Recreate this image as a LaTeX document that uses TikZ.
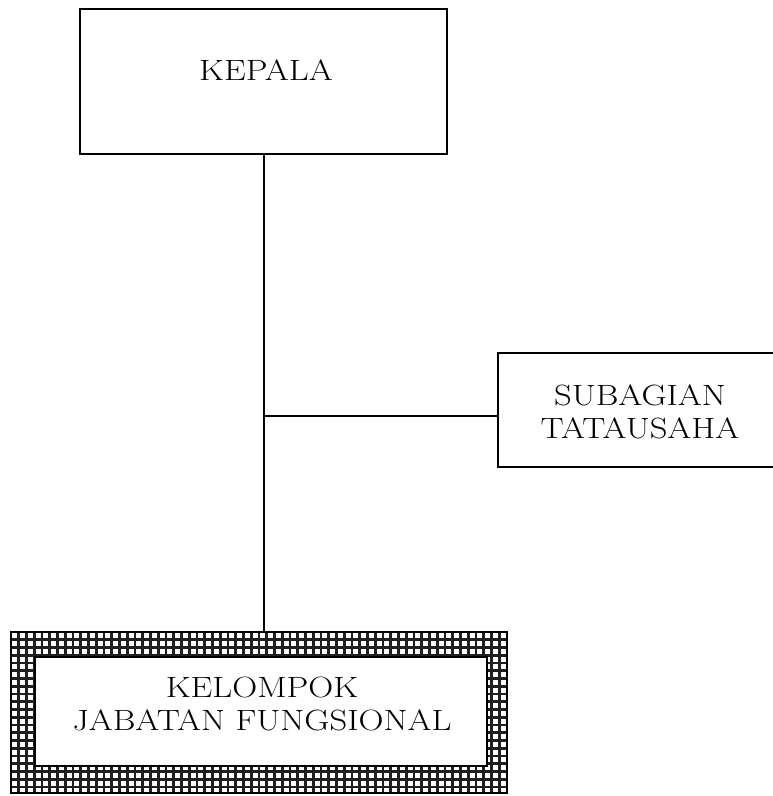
\documentclass[tikz,border=0pt]{standalone}
\newcommand{\wide}[1]{\scalebox{1.18}[1]{#1}}
\begin{document}
\begin{tikzpicture}[x=0.75pt,y=-0.75pt,
  box/.style={draw=black,line width=1.5pt,inner sep=0pt},
  lbl/.style={align=center,font=\fontsize{22}{24.75}\selectfont},
  conn/.style={line width=1.5pt},
  gridline/.style={line width=1.9pt,black!88}]
\useasboundingbox (0,0) rectangle (773,796);
\clip (0,0) rectangle (773,796);
% KEPALA
\node[box,minimum width=367*0.75pt,minimum height=145*0.75pt] (kep) at (263.5,81.5) {};
\node[lbl] (kept) at (266,70.5) {\wide{KEPALA}};
% SUBAGIAN
\node[box,minimum width=310*0.75pt,minimum height=114*0.75pt,anchor=west] (sub) at (497,410) {};
\node[lbl] (subt) at (640,411.5) {\wide{SUBAGIAN}\\\wide{TATAUSAHA}};
% KELOMPOK hatched outer
\node[inner sep=0pt,minimum width=496*0.75pt,minimum height=161*0.75pt] (kel) at (259,712.5) {};
\begin{scope}
\clip (kel.north west) rectangle (kel.south east);
\foreach \i in {0,...,65} {
  \draw[gridline] (11+\i*7.75,625) -- (11+\i*7.75,800);
}
\foreach \j in {0,...,22} {
  \draw[gridline] (5,632+\j*7.75) -- (515,632+\j*7.75);
}
\end{scope}
\draw[line width=1.5pt] (kel.north west) rectangle (kel.south east);
\node[box,fill=white,minimum width=452*0.75pt,minimum height=109*0.75pt] (kin) at (261,711.5) {};
\node[lbl] (kelt) at (262,704) {\wide{KELOMPOK}\\\wide{JABATAN FUNGSIONAL}};
% connectors
\coordinate (j) at (263,416);
\coordinate (s) at (sub.west |- j);
\draw[conn] (kep.south) -- (kel.north -| kep.south);
\draw[conn] (j) -- (s);
\end{tikzpicture}
\end{document}
